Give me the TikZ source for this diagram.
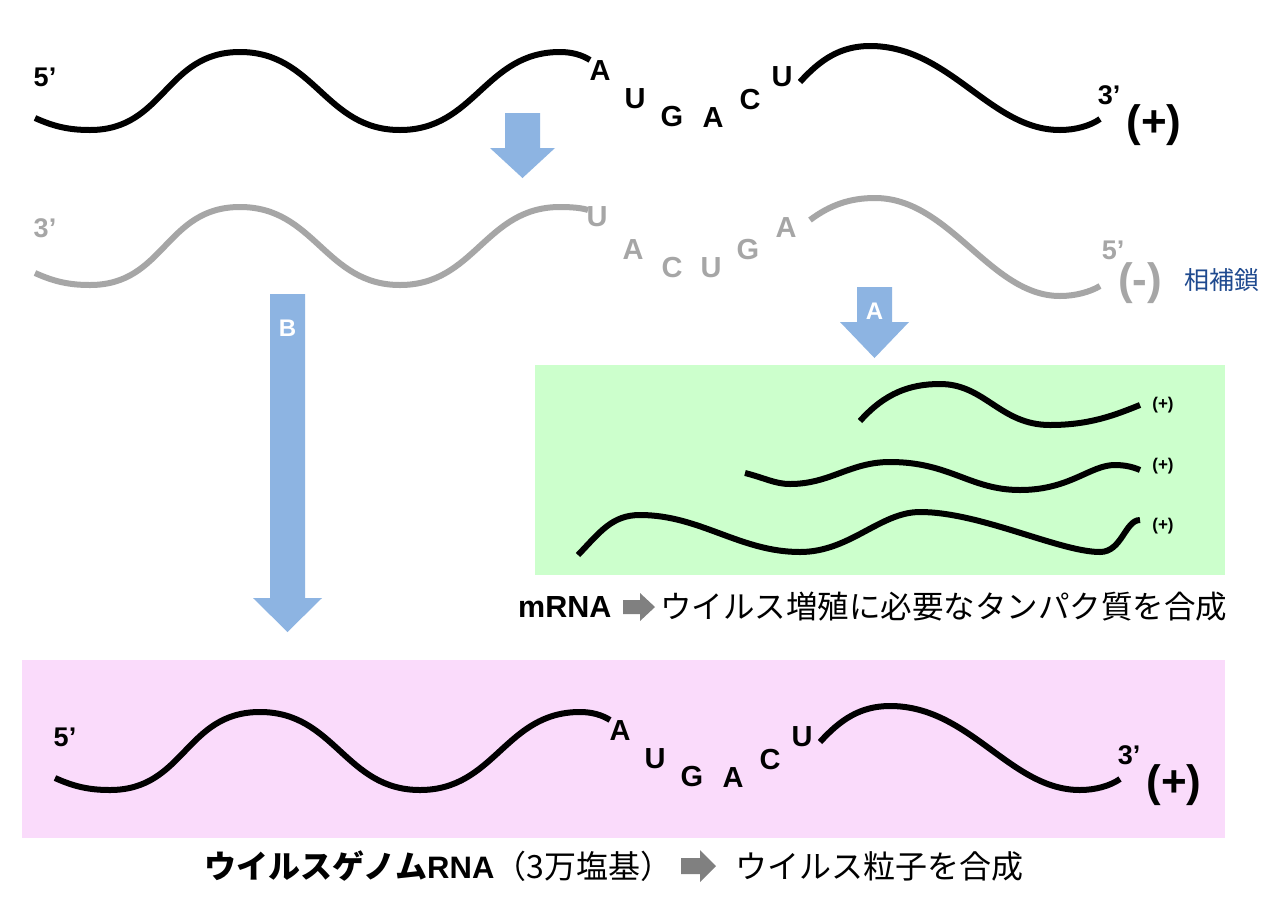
\documentclass[tikz,border=0pt]{standalone}
\usepackage{fontspec}
\setmainfont{Liberation Sans}
\newfontfamily\jp{Noto Sans CJK JP}
\definecolor{arrowblue}{HTML}{8DB4E2}
\definecolor{boxgreen}{HTML}{CCFFCC}
\definecolor{boxpink}{HTML}{FADBFB}
\definecolor{strandgray}{HTML}{A6A6A6}
\definecolor{labelblue}{HTML}{1F4A8F}
\definecolor{pointergray}{HTML}{808080}
\tikzset{
  strand/.style={line width=6pt, line cap=butt},
  base/.style={font=\bfseries\fontsize{29}{29}\selectfont, inner sep=0pt},
  endlbl/.style={font=\bfseries\fontsize{27}{27}\selectfont, inner sep=0pt},
  sense/.style={font=\bfseries\fontsize{44}{44}\selectfont, inner sep=0pt},
  smallsense/.style={font=\bfseries\fontsize{17}{17}\selectfont, inner sep=0pt},
  jptext/.style={font=\jp\fontsize{31.5}{31.5}\selectfont, inner sep=0pt, anchor=west},
  arrowtag/.style={font=\bfseries\fontsize{24}{24}\selectfont, text=white, inner sep=0pt}
}
\begin{document}
\begin{tikzpicture}[x=1pt,y=-1pt]
\useasboundingbox (0,0) rectangle (1280,922);
\fill[white] (0,0) rectangle (1280,922);

% boxes
\fill[boxgreen] (535,365) rectangle (1225,575);
\fill[boxpink] (22,660) rectangle (1225,838);

% top (+) strand and bottom genome strand
\foreach \sx/\sy in {0/0, 20/660}{
\begin{scope}[shift={(\sx,\sy)}]
\draw[strand] (35,118) .. controls (55,127) and (70,130) .. (90,130)
  .. controls (165,130) and (165,52) .. (240,52)
  .. controls (315,52) and (325,130) .. (400,130)
  .. controls (475,130) and (485,52) .. (560,52)
  .. controls (572,52) and (582,55) .. (590,60);
\draw[strand] (800,82) .. controls (820,60) and (840,46) .. (870,46)
  .. controls (950,46) and (990,130) .. (1060,130)
  .. controls (1075,130) and (1090,126) .. (1100,119);
\node[endlbl] at (45,77) {5’};
\node[base] at (600,71) {A};
\node[base] at (635,99) {U};
\node[base] at (672,117) {G};
\node[base] at (713,118) {A};
\node[base] at (750,100) {C};
\node[base] at (782,77) {U};
\node[endlbl] at (1109,95) {3’};
\node[sense] at (1154,125) {(+)};
\end{scope}}

% complementary (-) strand
\begin{scope}[shift={(0,155)}]
\draw[strand, strandgray] (35,118) .. controls (55,127) and (70,130) .. (90,130)
  .. controls (165,130) and (165,52) .. (240,52)
  .. controls (315,52) and (325,130) .. (400,130)
  .. controls (475,130) and (485,52) .. (560,52)
  .. controls (572,52) and (582,53) .. (588,55);
\end{scope}
\draw[strand, strandgray] (810,220) .. controls (830,205) and (850,198) .. (875,198)
  .. controls (950,198) and (990,296) .. (1060,296)
  .. controls (1075,296) and (1090,292) .. (1100,286);
\begin{scope}[text=strandgray]
\node[endlbl] (g3) at (45,228) {3’};
\node[base] (gU1) at (597,217) {U};
\node[base] (gA1) at (633,250) {A};
\node[base] (gC) at (672,268) {C};
\node[base] (gU2) at (711,268) {U};
\node[base] (gG) at (748,250) {G};
\node[base] (gA2) at (786,228) {A};
\node[endlbl] (g5) at (1113,250) {5’};
\node[sense] (gminus) at (1140,283) {(-)};
\end{scope}
\node[font=\jp\fontsize{25}{25}\selectfont, text=labelblue, inner sep=0pt] (comp) at (1222,280) {相補鎖};

% blue arrows
\fill[arrowblue] (505,113) -- (540,113) -- (540,148) -- (555,148) -- (522.5,178) -- (490,148) -- (505,148) -- cycle;
\fill[arrowblue] (270,294) -- (305,294) -- (305,598) -- (322,598) -- (287.5,632) -- (253,598) -- (270,598) -- cycle;
\node[arrowtag] (B) at (287.5,328) {B};
\fill[arrowblue] (857,287) -- (892,287) -- (892,322) -- (909,322) -- (874.5,358) -- (840,322) -- (857,322) -- cycle;
\node[arrowtag] (A) at (874.5,311) {A};

% mRNAs
\draw[strand] (860,421) .. controls (885,393) and (910,384) .. (940,384)
  .. controls (985,384) and (1000,425) .. (1050,425)
  .. controls (1090,425) and (1115,415) .. (1140,405);
\draw[strand] (745,473) .. controls (765,478) and (775,484) .. (790,484)
  .. controls (830,484) and (850,462) .. (890,462)
  .. controls (950,462) and (970,490) .. (1020,490)
  .. controls (1070,490) and (1090,465) .. (1115,465)
  .. controls (1125,465) and (1133,467) .. (1140,470);
\draw[strand] (578,555) .. controls (600,532) and (612,515) .. (640,515)
  .. controls (700,515) and (740,552) .. (800,552)
  .. controls (850,552) and (880,512) .. (920,512)
  .. controls (980,512) and (1060,552) .. (1100,552)
  .. controls (1122,552) and (1125,520) .. (1140,520);
\node[smallsense] (p1) at (1163,405) {(+)};
\node[smallsense] (p2) at (1163,466) {(+)};
\node[smallsense] (p3) at (1163,526) {(+)};

% mRNA caption
\node[font=\bfseries\fontsize{30.5}{30.5}\selectfont, inner sep=0pt, anchor=west] (mrna) at (518,607) {mRNA};
\fill[pointergray] (623,600) -- (640,600) -- (640,593) -- (655,607) -- (640,621) -- (640,614) -- (623,614) -- cycle;
\node[jptext] (mrnatext) at (660,607) {ウイルス増殖に必要なタンパク質を合成};

% genome caption
\node[inner sep=0pt, anchor=west] (genome) at (204,866) {\jp\fontsize{32}{32}\selectfont\bfseries ウイルスゲノム\fontspec{Liberation Sans}\bfseries\fontsize{31}{31}\selectfont RNA\jp\mdseries\fontsize{32}{32}\selectfont（3万塩基）};
\fill[pointergray] (681,858) -- (700,858) -- (700,850) -- (716,866) -- (700,882) -- (700,874) -- (681,874) -- cycle;
\node[jptext, font=\jp\fontsize{32}{32}\selectfont] (genometext) at (735,866) {ウイルス粒子を合成};
\end{tikzpicture}
\end{document}
